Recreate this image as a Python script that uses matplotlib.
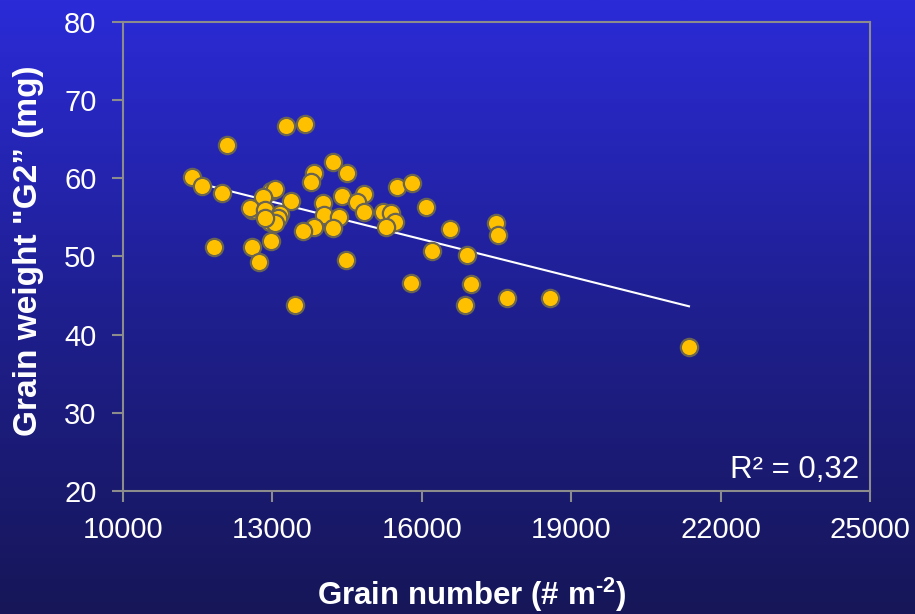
import matplotlib
matplotlib.use("Agg")
import matplotlib.pyplot as plt
import numpy as np
from matplotlib.colors import LinearSegmentedColormap

plt.rcParams['font.family'] = ['Liberation Sans', 'DejaVu Sans']
plt.rcParams['mathtext.fontset'] = 'custom'
plt.rcParams['mathtext.rm'] = 'Liberation Sans:bold'

# grain number (# m-2) and grain weight G2 (mg)
grain_number = [11386, 11586, 11988, 12088, 13273, 13655, 11827, 12590, 12731, 12972,
                14478, 14217, 14498, 13835, 13775, 14398, 14839, 14699, 14839, 15502,
                15803, 16084, 15221, 15382, 15462, 15281, 14016, 14036, 14337, 14217,
                13835, 13614, 13373, 12972, 13052, 12811, 12590, 12550, 12851, 13153,
                13112, 12952, 13052, 12851, 16566, 17490, 17530, 16205, 16908, 15783,
                16988, 16867, 17711, 18574, 13454, 21365]
grain_weight = [60.2, 59.0, 58.1, 64.3, 66.7, 67.0, 51.2, 51.2, 49.3, 52.0,
                49.5, 62.1, 60.7, 60.7, 59.5, 57.7, 58.0, 57.0, 55.7, 58.9,
                59.4, 56.3, 55.7, 55.6, 54.4, 53.8, 56.8, 55.3, 55.1, 53.6,
                53.8, 53.3, 57.1, 58.4, 58.6, 57.6, 55.9, 56.2, 55.9, 55.5,
                54.9, 54.4, 54.3, 54.9, 53.5, 54.3, 52.8, 50.7, 50.2, 46.6,
                46.5, 43.8, 44.7, 44.7, 43.8, 38.4]
r2_text = 'R² = 0,32'

fig = plt.figure(figsize=(9.15, 6.14), dpi=100)

# background gradient
bg = fig.add_axes([0, 0, 1, 1], zorder=-1)
cmap = LinearSegmentedColormap.from_list('bg', ['#2b2bd8', '#1f1f90', '#161658'])
bg.imshow(np.linspace(0, 1, 256).reshape(-1, 1), aspect='auto', cmap=cmap,
          extent=[0, 1, 0, 1])
bg.axis('off')

ax = fig.add_axes([0.1344, 0.2003, 0.8164, 0.7639])
ax.patch.set_alpha(0)

ax.scatter(grain_number, grain_weight, s=155, c='#ffc000', edgecolors='#6a6450',
           linewidths=1.6, zorder=3)

# linear trend line
coef = np.polyfit(grain_number, grain_weight, 1)
xs = np.array([min(grain_number), max(grain_number)])
ax.plot(xs, np.polyval(coef, xs), color='white', lw=1.5, zorder=2)

ax.text(0.985, 0.012, r2_text, transform=ax.transAxes, ha='right', va='bottom',
        color='white', fontsize=22.5)

ax.set_xlim(10000, 25000)
ax.set_ylim(20, 80)
ax.set_xticks(np.arange(10000, 25001, 3000))
ax.set_yticks(np.arange(20, 81, 10))

for s in ax.spines.values():
    s.set_color('#8c8c8c')
    s.set_linewidth(1.5)
ax.tick_params(colors='#8c8c8c', direction='out', length=8, width=1.5,
               labelcolor='white', labelsize=21)
ax.tick_params(axis='x', pad=10)
ax.tick_params(axis='y', pad=11)

ax.set_xlabel('Grain number (# m$^{\\text{-2}}$)', color='white', fontsize=22.5,
              fontweight='bold')
ax.xaxis.set_label_coords(0.467, -0.181)
ax.set_ylabel('Grain weight "G2\u201d (mg)', color='white', fontsize=24,
              fontweight='bold')
ax.yaxis.set_label_coords(-0.106, 0.512)

fig.savefig('out.png', dpi=100)
